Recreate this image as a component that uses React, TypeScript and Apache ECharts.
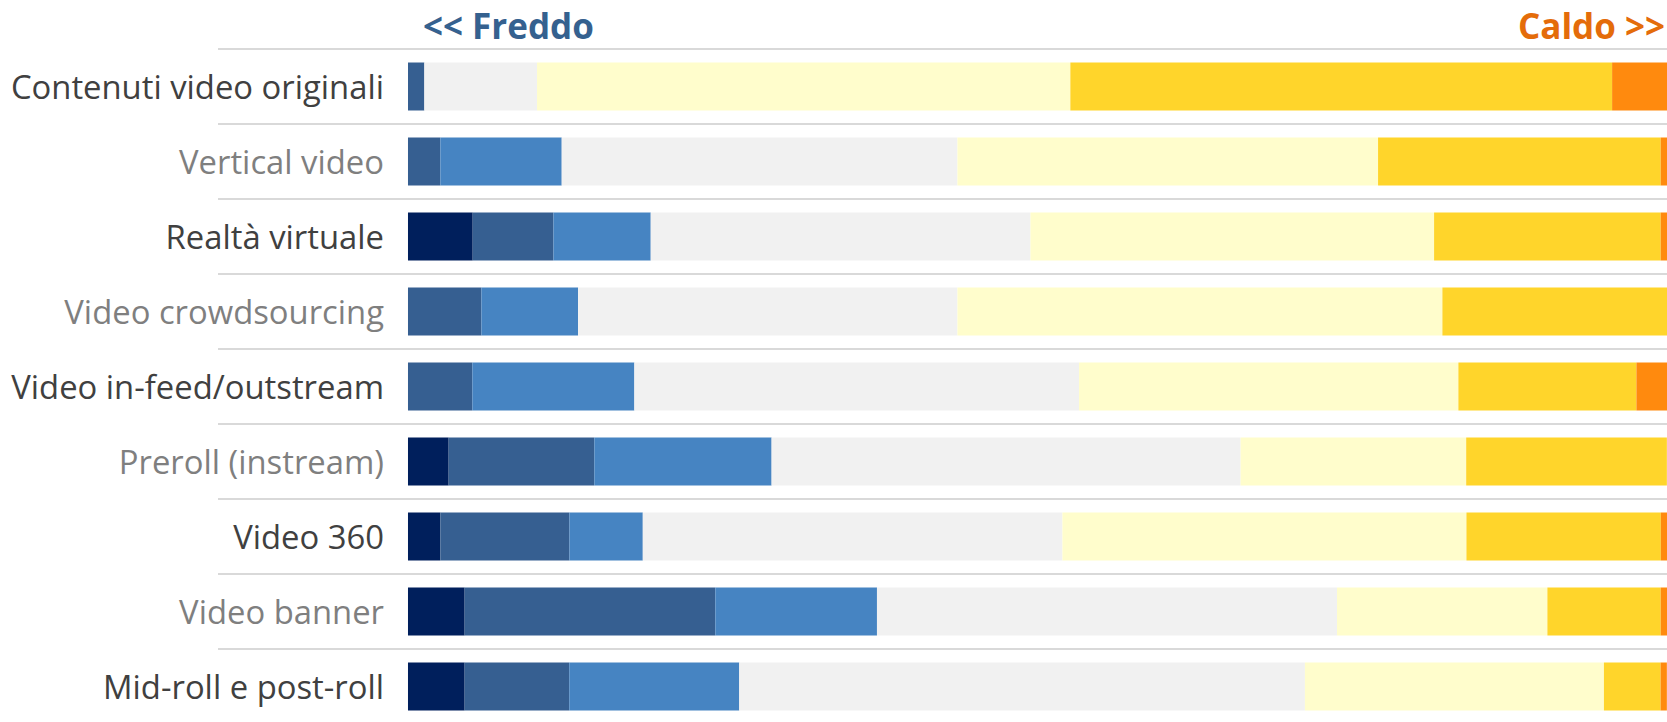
import React, { useEffect, useRef } from "react";
import * as echarts from "echarts";

const categories = [
  "Contenuti video originali",
  "Vertical video",
  "Realtà virtuale",
  "Video crowdsourcing",
  "Video in-feed/outstream",
  "Preroll (instream)",
  "Video 360",
  "Video banner",
  "Mid-roll e post-roll",
];

const seriesNames = ["Molto freddo", "Freddo", "Tiepido freddo", "Neutro", "Tiepido caldo", "Caldo", "Molto caldo"];

const navy = [0, 0, 5.14, 0, 0, 3.23, 2.57, 4.5, 4.5];
const darkBlue = [1.3, 2.57, 6.41, 5.83, 5.11, 11.57, 10.25, 19.91, 8.31];
const midBlue = [0, 9.64, 7.73, 7.68, 12.87, 14.08, 5.83, 12.84, 13.5];
const neutral = [8.95, 31.43, 30.16, 30.13, 35.32, 37.25, 33.33, 36.54, 44.93];
const lightYellow = [42.36, 33.41, 32.06, 38.52, 30.13, 17.92, 32.09, 16.71, 23.75];
const yellow = [43.03, 22.45, 18.0, 17.84, 14.14, 15.94, 15.44, 9.0, 4.5];
const orange = [4.37, 0.5, 0.5, 0, 2.44, 0, 0.5, 0.5, 0.5];

const seriesValues = [navy, darkBlue, midBlue, neutral, lightYellow, yellow, orange];
const seriesColors = ["#001F5C", "#365F91", "#4684C2", "#F1F1F1", "#FFFDCC", "#FFD52B", "#FF8A0E"];

export default function App() {
  const ref = useRef<HTMLDivElement>(null);
  useEffect(() => {
    if (!ref.current) return;
    const chart = echarts.init(ref.current, null, { renderer: "svg" });
    chart.setOption({
      animation: false,
      title: [
        {
          text: "<< Freddo",
          left: 418,
          top: 3,
          textStyle: { fontFamily: "Open Sans", fontWeight: "bold", fontSize: 35, color: "#35618F" },
        },
        {
          text: "Caldo >>",
          left: 1513,
          top: 3,
          textStyle: { fontFamily: "Open Sans", fontWeight: "bold", fontSize: 35, color: "#E46C0A" },
        },
      ],
      grid: { left: 218, right: 0, top: 49, height: 675, containLabel: false },
      xAxis: {
        type: "value",
        min: -15.09,
        max: 100,
        show: false,
      },
      yAxis: {
        type: "category",
        data: categories,
        inverse: true,
        axisLine: { show: false },
        axisTick: { show: false },
        splitLine: { show: true, lineStyle: { color: "#D9D9D9", width: 2 } },
        axisLabel: {
          interval: 0,
          margin: -166,
          fontFamily: "Open Sans",
          fontSize: 32.8,
          color: (_v: any, i: number) => (i % 2 === 0 ? "#404040" : "#7F7F7F"),
        },
      },
      series: seriesValues.map((vals, i) => ({
        name: seriesNames[i],
        type: "bar",
        stack: "total",
        barWidth: 48,
        data: vals,
        itemStyle: { color: seriesColors[i] },
      })),
    });
    return () => chart.dispose();
  }, []);
  return (
    <div style={{ position: "absolute", left: 0, top: 0, width: 1667, height: 722, overflow: "hidden" }}>
      <div ref={ref} style={{ width: 1667, height: 740 }} />
    </div>
  );
}
